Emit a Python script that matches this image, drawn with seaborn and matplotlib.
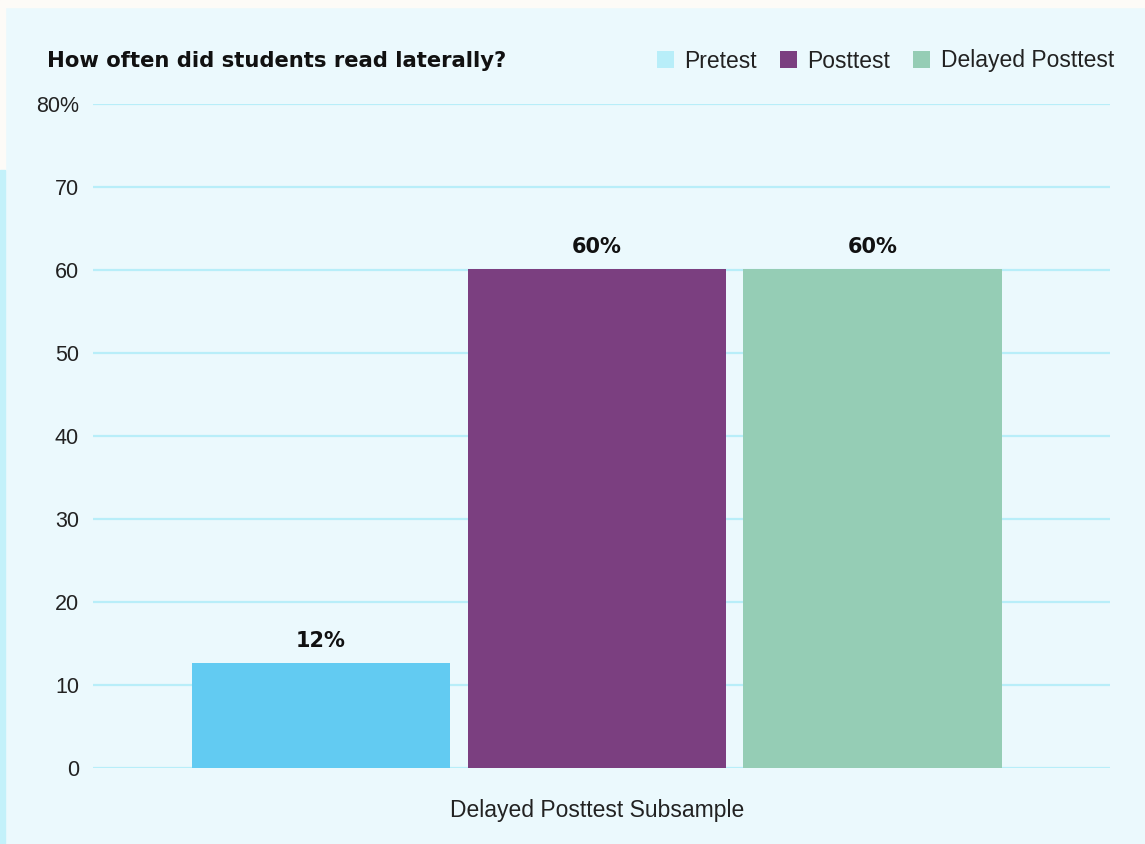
import matplotlib
matplotlib.use("Agg")
import matplotlib.pyplot as plt
from matplotlib.patches import Patch, Rectangle
import seaborn as sns
import pandas as pd

# data
group = ["Delayed Posttest Subsample"] * 3
tests = ["Pretest", "Posttest", "Delayed Posttest"]
values = [12.6, 60.1, 60.1]
value_labels = ["12%", "60%", "60%"]
yticks = [0, 10, 20, 30, 40, 50, 60, 70, 80]
ytick_labels = ["0", "10", "20", "30", "40", "50", "60", "70", "80%"]

bar_colors = ["#62CBF2", "#7B3F80", "#95CDB5"]
legend_colors = ["#B8EEF9", "#7B3F80", "#95CDB5"]
bg = "#EBF9FD"
grid_color = "#B8EEF9"
bold_font = ["DejaVu Sans"]

df = pd.DataFrame({"group": group, "test": tests, "value": values})

sns.set_style("white", {"axes.facecolor": bg, "figure.facecolor": bg})
plt.rcParams["font.family"] = ["Liberation Sans", "DejaVu Sans"]

fig = plt.figure(figsize=(11.45, 8.44), dpi=100)
fig.patch.set_facecolor(bg)
# outer frame bits
fig.patches.append(Rectangle((0, 1 - 7 / 844), 1, 7 / 844, transform=fig.transFigure,
                             color="#FDFBF7", zorder=0))
fig.patches.append(Rectangle((0, 1 - 170 / 844), 5 / 1145, 170 / 844, transform=fig.transFigure,
                             color="#FDFBF7", zorder=0))
fig.patches.append(Rectangle((0, 0), 5 / 1145, 1 - 170 / 844, transform=fig.transFigure,
                             color="#C3F1FA", zorder=0))

ax = fig.add_axes([93 / 1145, 76 / 844, 1017 / 1145, 664 / 844])
ax.set_facecolor(bg)

sns.barplot(data=df, x="group", y="value", hue="test", hue_order=tests,
            palette=bar_colors, width=0.814, gap=0.062, saturation=1,
            errorbar=None, linewidth=0, ax=ax, zorder=3)

for cont, lab in zip(ax.containers, value_labels):
    ax.bar_label(cont, labels=[lab], padding=9, fontsize=15, fontweight="bold",
                 family=bold_font, color="#111111")

ax.set_ylim(0, 80)
ax.set_xlim(-0.4955, 0.5045)
ax.set_yticks(yticks)
ax.set_yticklabels(ytick_labels)
ax.yaxis.grid(True, color=grid_color, linewidth=1.6, zorder=0)
ax.set_axisbelow(True)
ax.tick_params(axis="y", length=0, pad=10, labelsize=15.5, labelcolor="#222222")
ax.tick_params(axis="x", length=0, pad=22, labelsize=16.5, labelcolor="#222222")
ax.set_xlabel("")
ax.set_ylabel("")
sns.despine(ax=ax, left=True, bottom=True)
for lab in ax.get_yticklabels():
    lab.set_horizontalalignment("right")

ax.get_legend().remove()
handles = [Patch(facecolor=c, edgecolor="none") for c in legend_colors]
fig.legend(handles, tests, loc="center right", bbox_to_anchor=(1114 / 1145, 1 - 61 / 844),
           ncol=3, frameon=False, fontsize=16.5, handlelength=0.75, handleheight=0.75,
           handletextpad=0.45, columnspacing=1.0, borderaxespad=0, borderpad=0,
           labelcolor="#222222")

fig.text(47 / 1145, 1 - 61 / 844, "How often did students read laterally?",
         fontsize=15.2, fontweight="heavy", family=bold_font,
         va="center", ha="left", color="#111111")

fig.savefig("out.png", dpi=100, facecolor=fig.get_facecolor())
